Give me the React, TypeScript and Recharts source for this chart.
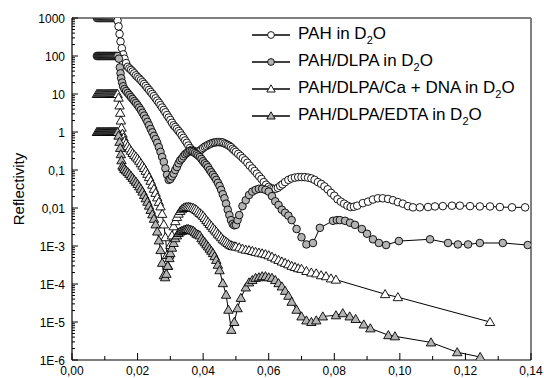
import React from 'react';
import { ScatterChart, Scatter, XAxis, YAxis, ReferenceLine, Legend } from 'recharts';

// PAH in D2O (offset x1000)
const pahQ = [
  0.0076, 0.0079, 0.0082, 0.0085, 0.0088, 0.0091, 0.0094, 0.0097, 0.01, 0.0103, 0.0106, 0.0109, 0.0112,
  0.0115, 0.0118, 0.0121, 0.0124, 0.0127, 0.013, 0.0133, 0.0136,
  0.0139, 0.0142, 0.0145, 0.0148, 0.0152, 0.0156, 0.016, 0.0165, 0.017, 0.0175, 0.018, 0.0185, 0.019,
  0.0195, 0.02, 0.0205, 0.021, 0.0215, 0.022, 0.0225, 0.023, 0.0235, 0.024, 0.0245, 0.025, 0.0255, 0.026,
  0.0265, 0.027, 0.0275, 0.028, 0.0285, 0.029, 0.0295, 0.03, 0.0305, 0.031, 0.0315, 0.032, 0.0325, 0.033,
  0.0335, 0.034, 0.0345, 0.035, 0.0355, 0.036, 0.0365, 0.037, 0.0375, 0.038, 0.0385, 0.039, 0.0395, 0.04,
  0.0405, 0.041, 0.0415, 0.042, 0.0425, 0.043, 0.0435, 0.044, 0.0445, 0.045, 0.0455, 0.046, 0.0465, 0.047,
  0.0475, 0.048, 0.0485, 0.049, 0.0495, 0.05, 0.0507, 0.0514, 0.0521, 0.0528, 0.0535, 0.0542, 0.055,
  0.0557, 0.0564, 0.0571, 0.0578, 0.0585, 0.0592, 0.06, 0.0607, 0.0614, 0.0621, 0.0628, 0.0635, 0.0642,
  0.065, 0.066, 0.067, 0.068, 0.069, 0.07, 0.071, 0.072, 0.073, 0.074, 0.075, 0.076, 0.077, 0.078, 0.079,
  0.08, 0.081, 0.082, 0.083, 0.084, 0.085, 0.086, 0.087, 0.0887, 0.0903, 0.0918, 0.0933, 0.0948, 0.0964,
  0.0979, 0.0994, 0.1009, 0.1025, 0.104, 0.1061, 0.1086, 0.1107, 0.1131, 0.1159, 0.1183, 0.1214, 0.1244,
  0.1275, 0.1305, 0.1342, 0.1382,
];
const pahR = [
  1000, 1000, 1000, 1000, 1000, 1000, 1000, 1000, 1000, 1000, 1000, 1000, 1000,
  1000, 1000, 1000, 1000, 1000, 1000, 1000, 1000,
  850, 600, 380, 240, 160, 110, 85, 65, 52, 47, 43, 39, 35,
  31, 28, 25.5, 23, 20.5, 18.4, 16.3, 14.4, 12.8, 11.3, 10, 8.8, 7.7, 6.7,
  5.9, 5.1, 4.4, 3.8, 3.3, 2.8, 2.4, 2.07, 1.75, 1.5, 1.35, 1.2, 1.06, 0.94,
  0.81, 0.7, 0.6, 0.52, 0.44, 0.38, 0.34, 0.32, 0.305, 0.3, 0.305, 0.32, 0.35, 0.38,
  0.41, 0.43, 0.46, 0.48, 0.5, 0.52, 0.53, 0.54, 0.545, 0.54, 0.535, 0.53, 0.5, 0.48,
  0.455, 0.43, 0.4, 0.36, 0.33, 0.3, 0.265, 0.235, 0.205, 0.18, 0.155, 0.13, 0.11,
  0.094, 0.08, 0.068, 0.058, 0.048, 0.041, 0.036, 0.033, 0.032, 0.032, 0.034, 0.038, 0.042,
  0.048, 0.055, 0.06, 0.063, 0.065, 0.065, 0.065, 0.063, 0.06, 0.055, 0.048, 0.043, 0.037, 0.031, 0.025,
  0.021, 0.017, 0.0147, 0.013, 0.0115, 0.0106, 0.0108, 0.0115, 0.0134, 0.0147, 0.0167, 0.018, 0.018, 0.0173,
  0.016, 0.0143, 0.013, 0.0112, 0.0104, 0.0104, 0.0106, 0.011, 0.0112, 0.0115, 0.0115, 0.0112, 0.011,
  0.011, 0.0106, 0.0104, 0.0104,
];

// PAH/DLPA in D2O (offset x100)
const dlpaQ = [
  0.0076, 0.0079, 0.0082, 0.0085, 0.0088, 0.0091, 0.0094, 0.0097, 0.01, 0.0103, 0.0106, 0.0109, 0.0112,
  0.0115, 0.0118, 0.0121, 0.0124, 0.0127, 0.013, 0.0133, 0.0136, 0.0139,
  0.0143, 0.0146, 0.0148, 0.015, 0.0153, 0.0156, 0.016, 0.0165, 0.017, 0.0175, 0.018, 0.0185, 0.019,
  0.0195, 0.02, 0.0205, 0.021, 0.0215, 0.022, 0.0225, 0.023, 0.0235, 0.024, 0.0245, 0.025, 0.0255, 0.026,
  0.0265, 0.027, 0.0275, 0.028, 0.0285, 0.029, 0.0295, 0.03, 0.0305, 0.031, 0.0315, 0.032, 0.0325, 0.033,
  0.0335, 0.034, 0.0345, 0.035, 0.0355, 0.036, 0.0365, 0.037, 0.0375, 0.038, 0.0385, 0.039, 0.0395, 0.04,
  0.0405, 0.041, 0.0415, 0.042, 0.0425, 0.043, 0.0435, 0.044, 0.0445, 0.045, 0.0455, 0.046, 0.0465, 0.047,
  0.0475, 0.048, 0.0485, 0.049, 0.0495, 0.05, 0.0505, 0.051, 0.052, 0.053, 0.054, 0.055, 0.056, 0.057,
  0.058, 0.059, 0.06, 0.061, 0.062, 0.063, 0.064, 0.065, 0.066, 0.067, 0.0685, 0.07, 0.0715, 0.0735,
  0.0756, 0.0796, 0.0808, 0.0817, 0.0833, 0.0848, 0.0863, 0.0884, 0.09, 0.0918, 0.0936, 0.0958, 0.0997,
  0.1092, 0.1147, 0.1177, 0.1208, 0.1244, 0.1314, 0.139,
];
const dlpaR = [
  100, 100, 100, 100, 100, 100, 100, 100, 100, 100, 100, 100, 100,
  100, 100, 100, 100, 100, 100, 100, 100, 100,
  85, 50, 35, 26, 20, 16, 13.5, 12, 10.6, 9.4, 8.3, 7.4, 6.5,
  5.8, 5.1, 4.4, 3.8, 3.2, 2.7, 2.25, 1.85, 1.5, 1.2, 0.98, 0.79, 0.65, 0.52,
  0.4, 0.3, 0.22, 0.163, 0.11, 0.075, 0.055, 0.058, 0.068, 0.08, 0.1, 0.12, 0.15, 0.18,
  0.2, 0.23, 0.26, 0.28, 0.3, 0.32, 0.315, 0.3, 0.28, 0.26, 0.24, 0.22, 0.195, 0.17,
  0.15, 0.135, 0.118, 0.1, 0.087, 0.075, 0.065, 0.055, 0.046, 0.038, 0.03, 0.023, 0.018, 0.013,
  0.009, 0.0065, 0.0048, 0.0038, 0.0035, 0.0036, 0.0048, 0.0065, 0.0112, 0.016, 0.022, 0.027, 0.03, 0.032,
  0.032, 0.03, 0.027, 0.0205, 0.015, 0.012, 0.009, 0.0075, 0.0063, 0.0048, 0.0028, 0.0017, 0.0011, 0.0012,
  0.003, 0.0046, 0.0048, 0.0048, 0.0046, 0.0041, 0.0036, 0.0028, 0.0021, 0.0015, 0.0012, 0.00106, 0.00135,
  0.0015, 0.0012, 0.0011, 0.0011, 0.0012, 0.0012, 0.00106,
];

// PAH/DLPA/Ca + DNA in D2O (offset x10)
const dnaQ = [
  0.0076, 0.0079, 0.0082, 0.0085, 0.0088, 0.0091, 0.0094, 0.0097, 0.01, 0.0103, 0.0106, 0.0109, 0.0112,
  0.0115, 0.0118, 0.0121, 0.0124, 0.0127, 0.013, 0.0133, 0.0136, 0.0139,
  0.0142, 0.0145, 0.0147, 0.0149, 0.0151, 0.0154, 0.0157, 0.016, 0.0165, 0.017, 0.0175, 0.018, 0.0185,
  0.019, 0.0195, 0.02, 0.0205, 0.021, 0.0215, 0.022, 0.0225, 0.023, 0.0235, 0.024, 0.0245, 0.025, 0.0255,
  0.026, 0.0265, 0.027, 0.0275, 0.028, 0.0285, 0.029, 0.0293, 0.0297, 0.03, 0.0305, 0.031, 0.0315, 0.032,
  0.0325, 0.033, 0.0335, 0.034, 0.0345, 0.035, 0.0355, 0.036, 0.0365, 0.037, 0.0375, 0.038, 0.0385, 0.039,
  0.0395, 0.04, 0.0405, 0.041, 0.0415, 0.042, 0.0425, 0.043, 0.0435, 0.044, 0.0445, 0.045, 0.0455, 0.046,
  0.0465, 0.047, 0.0475, 0.048, 0.0485, 0.049, 0.0495, 0.05, 0.051, 0.052, 0.053, 0.054, 0.055, 0.056,
  0.057, 0.058, 0.059, 0.06, 0.061, 0.062, 0.063, 0.064, 0.065, 0.066, 0.067, 0.068, 0.069, 0.07, 0.0715,
  0.073, 0.0745, 0.076, 0.0775, 0.079, 0.0805, 0.0955, 0.0994, 0.1275,
];
const dnaR = [
  10, 10, 10, 10, 10, 10, 10, 10, 10, 10, 10, 10, 10,
  10, 10, 10, 10, 10, 10, 10, 10, 10,
  8, 5, 3.2, 2, 1.3, 0.9, 0.72, 0.58, 0.5, 0.43, 0.37, 0.32, 0.28,
  0.25, 0.225, 0.2, 0.175, 0.15, 0.13, 0.113, 0.095, 0.079, 0.065, 0.052, 0.041, 0.032, 0.025,
  0.019, 0.0145, 0.011, 0.007, 0.0037, 0.0017, 0.00058, 0.0003, 0.00059, 0.00106, 0.0019, 0.0033, 0.0045, 0.0058,
  0.0071, 0.0083, 0.0093, 0.01, 0.0104, 0.0106, 0.0107, 0.0106, 0.0103, 0.01, 0.0095, 0.0089, 0.0081, 0.0074,
  0.0068, 0.0062, 0.0055, 0.0048, 0.0043, 0.0038, 0.0034, 0.003, 0.0027, 0.0024, 0.0021, 0.0019, 0.0017, 0.0015,
  0.0014, 0.0013, 0.0012, 0.0011, 0.00105, 0.001, 0.00098, 0.00097, 0.00092, 0.00085, 0.0008, 0.00078, 0.00074, 0.0007,
  0.00067, 0.00064, 0.00061, 0.00057, 0.00052, 0.00047, 0.00043, 0.00039, 0.00036, 0.00033, 0.0003, 0.00028, 0.00026, 0.00025, 0.00022,
  0.0002, 0.00019, 0.00017, 0.00016, 0.00014, 0.00013, 0.000054, 0.000045, 0.00001,
];

// PAH/DLPA/EDTA in D2O (offset x1)
const edtaQ = [
  0.0076, 0.0079, 0.0082, 0.0085, 0.0088, 0.0091, 0.0094, 0.0097, 0.01, 0.0103, 0.0106, 0.0109, 0.0112,
  0.0115, 0.0118, 0.0121, 0.0124, 0.0127, 0.013, 0.0133, 0.0136, 0.0139,
  0.0142, 0.0145, 0.0147, 0.0149, 0.0151, 0.0154, 0.0157, 0.016, 0.0165, 0.017, 0.0175, 0.018, 0.0185,
  0.019, 0.0195, 0.02, 0.0205, 0.021, 0.0215, 0.022, 0.0225, 0.023, 0.0235, 0.024, 0.0245, 0.025, 0.0255,
  0.026, 0.0265, 0.027, 0.0275, 0.028, 0.0284, 0.0288, 0.0292, 0.0297, 0.03, 0.0305, 0.031, 0.0315, 0.032,
  0.0325, 0.033, 0.0335, 0.034, 0.0345, 0.035, 0.0355, 0.036, 0.0365, 0.037, 0.0375, 0.038, 0.0385, 0.039,
  0.0395, 0.04, 0.0405, 0.041, 0.0415, 0.042, 0.0425, 0.043, 0.0435, 0.044, 0.0445, 0.045, 0.046, 0.047,
  0.0477, 0.0486, 0.0495, 0.0505, 0.0515, 0.053, 0.054, 0.055, 0.056, 0.057, 0.058, 0.059, 0.06, 0.061,
  0.062, 0.063, 0.064, 0.065, 0.066, 0.067, 0.0685, 0.07, 0.0715, 0.073, 0.0745, 0.0765, 0.0805, 0.0826,
  0.0847, 0.0865, 0.089, 0.091, 0.0965, 0.0985, 0.1095, 0.1175, 0.1245,
];
const edtaR = [
  1, 1, 1, 1, 1, 1, 1, 1, 1, 1, 1, 1, 1,
  1, 1, 1, 1, 1, 1, 1, 1, 1,
  0.8, 0.55, 0.38, 0.26, 0.18, 0.13, 0.118, 0.106, 0.097, 0.088, 0.079, 0.07, 0.062,
  0.055, 0.049, 0.043, 0.037, 0.032, 0.027, 0.022, 0.018, 0.0146, 0.0115, 0.0089, 0.0068, 0.0052, 0.0037,
  0.0024, 0.0014, 0.00078, 0.00036, 0.00017, 0.00015, 0.000185, 0.0003, 0.00048, 0.00065, 0.0009, 0.0012, 0.0016, 0.0019,
  0.0022, 0.0024, 0.0025, 0.0026, 0.0027, 0.0028, 0.0028, 0.0027, 0.0026, 0.0025, 0.0023, 0.0021, 0.002, 0.0019,
  0.0016, 0.0014, 0.00125, 0.0011, 0.00097, 0.00085, 0.00075, 0.00065, 0.00054, 0.00043, 0.00032, 0.00023, 0.000105, 0.000052,
  0.000021, 0.0000062, 0.00001, 0.000023, 0.000043, 0.000081, 0.00011, 0.000127, 0.000145, 0.00015, 0.00016, 0.00016, 0.00015, 0.000145,
  0.000127, 0.000105, 0.000086, 0.000066, 0.000049, 0.000034, 0.000021, 0.000014, 0.000011, 0.00001, 0.000011, 0.000014, 0.000015, 0.000017,
  0.000014, 0.000012, 0.0000086, 0.0000068, 0.0000045, 0.0000042, 0.0000029, 0.0000016, 0.0000012,
];

const seriesNames = ['PAH in D2O', 'PAH/DLPA in D2O', 'PAH/DLPA/Ca + DNA in D2O', 'PAH/DLPA/EDTA in D2O'];

const xTicks = [0, 0.01, 0.02, 0.03, 0.04, 0.05, 0.06, 0.07, 0.08, 0.09, 0.1, 0.11, 0.12, 0.13, 0.14];
const xTickLabels = ['0,00', '', '0,02', '', '0,04', '', '0,06', '', '0,08', '', '0,10', '', '0,12', '', '0,14'];

const yMajor = [1e-6, 1e-5, 1e-4, 1e-3, 0.01, 0.1, 1, 10, 100, 1000];
const yTickLabels = ['1E-6', '1E-5', '1E-4', '1E-3', '0,01', '0,1', '1', '10', '100', '1000'];
const yTicks: number[] = [];
yMajor.forEach((d, i) => {
  yTicks.push(d);
  if (i < yMajor.length - 1) for (let m = 2; m <= 9; m++) yTicks.push(m * d);
});

const font = '"Liberation Sans", Arial, sans-serif';
const GRAY = '#b3b3b3';

const toPoints = (q: number[], r: number[]) => q.map((v, i) => ({ q: v, r: r[i] }));

const circleShape = (fill: string) => (p: any) => (
  <circle cx={p.cx} cy={p.cy} r={3.8} fill={fill} stroke="#000" strokeWidth={0.9} />
);
const triShape = (fill: string) => (p: any) => (
  <path
    d={`M${p.cx},${p.cy - 4.6}L${p.cx + 4.7},${p.cy + 3.5}L${p.cx - 4.7},${p.cy + 3.5}Z`}
    fill={fill}
    stroke="#000"
    strokeWidth={0.9}
  />
);

const YTick = ({ x, y, payload }: any) => {
  const v = payload.value;
  const idx = yMajor.findIndex(m => Math.abs(Math.log10(m) - Math.log10(v)) < 1e-6);
  const major = idx >= 0;
  return (
    <g>
      <line x1={x} x2={x + (major ? 6 : 3)} y1={y} y2={y} stroke="#000" strokeWidth={1} />
      {major && (
        <text x={x - 7} y={y + 4.5} textAnchor="end" fontSize={12} fontFamily={font} fill="#000">
          {yTickLabels[idx]}
        </text>
      )}
    </g>
  );
};

const XTick = ({ x, y, payload }: any) => {
  const label = xTickLabels[Math.round(payload.value * 100)];
  const major = label !== '';
  return (
    <g>
      <line x1={x} x2={x} y1={y} y2={y - (major ? 7 : 4)} stroke="#000" strokeWidth={1} />
      {major && (
        <text x={x} y={y + 14.5} textAnchor="middle" fontSize={12} fontFamily={font} fill="#000">
          {label}
        </text>
      )}
    </g>
  );
};

const YLabel = () => (
  <text
    x={24}
    y={189}
    transform="rotate(-90 24 189)"
    textAnchor="middle"
    fontSize={15}
    fontFamily={font}
    fill="#000"
  >
    Reflectivity
  </text>
);

const legendMarker = (i: number) => {
  const fill = i % 2 === 0 ? '#fff' : GRAY;
  if (i < 2) return <circle cx={19} cy={7} r={3.4} fill={fill} stroke="#000" strokeWidth={0.9} />;
  return <path d="M19,2.8L23.2,10L14.8,10Z" fill={fill} stroke="#000" strokeWidth={0.9} />;
};

const LegendBox = () => (
  <div style={{ fontFamily: font, fontSize: 17, color: '#000' }}>
    {seriesNames.map((name, i) => (
      <div key={name} style={{ display: 'flex', alignItems: 'center', height: 27 }}>
        <svg width={38} height={14} style={{ display: 'block' }}>
          <line x1={0} x2={38} y1={7} y2={7} stroke="#000" strokeWidth={1.5} />
          {legendMarker(i)}
        </svg>
        <span style={{ marginLeft: 8, whiteSpace: 'nowrap', lineHeight: '20px' }}>
          {name.slice(0, -2)}
          <span style={{ fontSize: 11, position: 'relative', top: 5 }}>2</span>
          O
        </span>
      </div>
    ))}
  </div>
);

const series = [
  { q: pahQ, r: pahR, shape: circleShape('#fff') },
  { q: dlpaQ, r: dlpaR, shape: circleShape(GRAY) },
  { q: dnaQ, r: dnaR, shape: triShape('#fff') },
  { q: edtaQ, r: edtaR, shape: triShape(GRAY) },
];

export default function App() {
  return (
    <div style={{ position: 'absolute', left: 0, top: 0, width: 544, height: 378, background: '#fff' }}>
      <ScatterChart width={544} height={378} margin={{ top: 18, right: 13, bottom: 0, left: 0 }}>
        <XAxis
          type="number"
          dataKey="q"
          domain={[0, 0.14]}
          ticks={xTicks}
          interval={0}
          tickSize={0}
          tickMargin={0}
          height={18}
          axisLine={{ stroke: '#000', strokeWidth: 1.2 }}
          tickLine={false}
          tick={<XTick />}
          allowDataOverflow
        />
        <YAxis
          type="number"
          dataKey="r"
          scale="log"
          domain={[1e-6, 1000]}
          ticks={yTicks}
          interval={0}
          tickSize={0}
          tickMargin={0}
          width={72}
          axisLine={{ stroke: '#000', strokeWidth: 1.2 }}
          tickLine={false}
          tick={<YTick />}
          label={<YLabel />}
          allowDataOverflow
        />
        <ReferenceLine y={1000} stroke="#808080" strokeWidth={2} />
        <ReferenceLine x={0.14} stroke="#808080" strokeWidth={2} />
        {series.map((s, i) => (
          <Scatter
            key={seriesNames[i]}
            name={seriesNames[i]}
            data={toPoints(s.q, s.r)}
            shape={s.shape}
            line={{ stroke: '#000', strokeWidth: 1 }}
            isAnimationActive={false}
          />
        ))}
        <Legend
          layout="vertical"
          align="center"
          verticalAlign="middle"
          wrapperStyle={{ left: 252, top: 21, width: 290 }}
          content={() => <LegendBox />}
        />
      </ScatterChart>
    </div>
  );
}
